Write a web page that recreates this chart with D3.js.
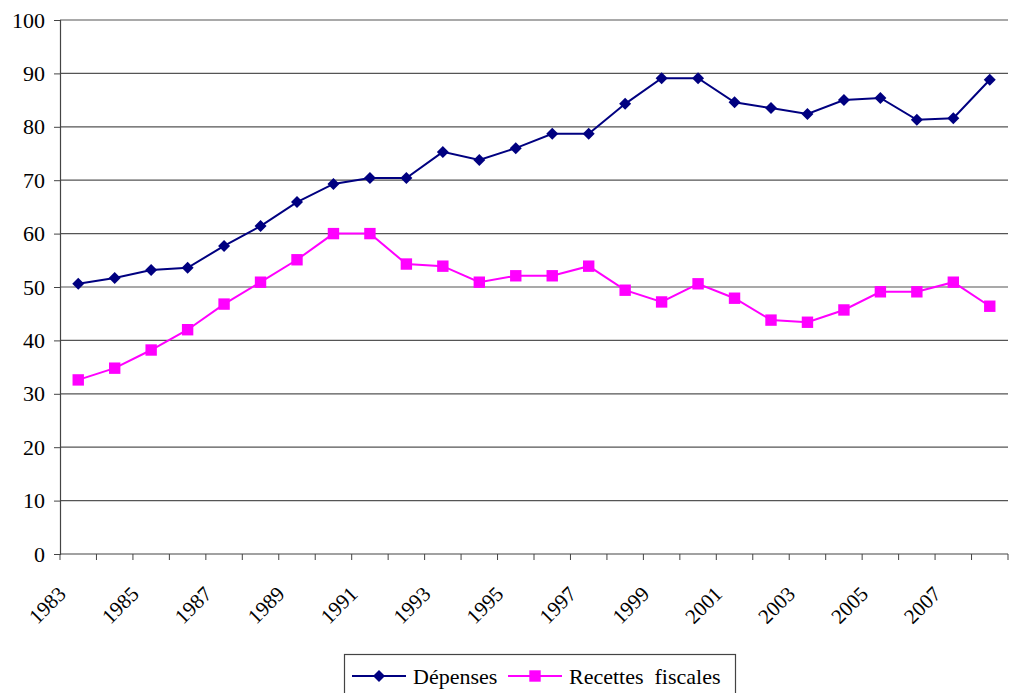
<!DOCTYPE html>
<html>
<head>
<meta charset="utf-8">
<script src="https://cdn.jsdelivr.net/npm/d3@7"></script>
<style>
  body { margin: 0; background: #fff; }
  * { font-family: "Liberation Serif", "Times New Roman", serif !important; }
</style>
</head>
<body>
<svg id="chart" width="1013" height="693" font-family="Liberation Serif"></svg>
<script>
const years = d3.range(1983, 2009);
const depenses = [50.6, 51.7, 53.2, 53.6, 57.7, 61.4, 65.9, 69.3, 70.4, 70.4, 75.3, 73.8, 76.0,
  78.7, 78.7, 84.3, 89.1, 89.1, 84.6, 83.5, 82.4, 85.0, 85.4, 81.3, 81.6, 88.8];
const recettes = [32.6, 34.8, 38.2, 42.0, 46.8, 50.9, 55.1, 60.0, 60.0, 54.3, 53.9, 50.9, 52.1,
  52.1, 53.9, 49.4, 47.2, 50.6, 47.9, 43.8, 43.4, 45.7, 49.1, 49.1, 50.9, 46.4];
const yTicks = d3.range(0, 101, 10);
const xLabels = d3.range(1983, 2008, 2);
const seriesNames = ['Dépenses', 'Recettes  fiscales'];

const FONT = 'Liberation Serif';
const margin = { left: 60, right: 5, top: 20, bottom: 139 };
const width = 1013, height = 693;
const svg = d3.select('#chart');

const x = d3.scaleBand()
  .domain(years)
  .range([margin.left, width - margin.right]);
const y = d3.scaleLinear()
  .domain([0, 100])
  .range([height - margin.bottom, margin.top]);

// grid lines
svg.append('g')
  .selectAll('line')
  .data(yTicks.filter(d => d > 0))
  .enter().append('line')
  .attr('x1', margin.left)
  .attr('x2', width - margin.right)
  .attr('y1', d => y(d))
  .attr('y2', d => y(d))
  .attr('stroke', '#555')
  .attr('stroke-width', 1.2);

// y axis
const yAxis = svg.append('g')
  .attr('transform', `translate(${margin.left},0)`)
  .call(d3.axisLeft(y).tickValues(yTicks).tickSize(6).tickPadding(9))
  .attr('font-family', FONT)
  .attr('font-size', 22);
yAxis.select('.domain').attr('stroke', '#444').attr('stroke-width', 1.2);
yAxis.selectAll('.tick line').attr('stroke', '#444');
yAxis.selectAll('text')
  .attr('font-family', FONT)
  .attr('fill', '#000');

// x axis: ticks between categories
const xBase = y(0);
const boundaries = years.map(d => x(d)).concat([x(years[years.length - 1]) + x.bandwidth()]);
const xAxis = svg.append('g').attr('font-family', FONT);
xAxis.append('line')
  .attr('x1', margin.left)
  .attr('x2', width - margin.right)
  .attr('y1', xBase)
  .attr('y2', xBase)
  .attr('stroke', '#444')
  .attr('stroke-width', 1.2);
xAxis.selectAll('line.tick')
  .data(boundaries)
  .enter().append('line')
  .attr('class', 'tick')
  .attr('x1', d => d)
  .attr('x2', d => d)
  .attr('y1', xBase)
  .attr('y2', xBase + 6)
  .attr('stroke', '#444');
xAxis.selectAll('text')
  .data(xLabels)
  .enter().append('text')
  .attr('transform', d => `translate(${x(d) + 2},${xBase + 36}) rotate(-45)`)
  .attr('text-anchor', 'end')
  .attr('dy', '0.35em')
  .attr('font-family', FONT)
  .attr('font-size', 21)
  .text(d => d);

// series
const line = d3.line()
  .x((d, i) => x(years[i]) + x.bandwidth() / 2)
  .y(d => y(d));

svg.append('path')
  .datum(depenses)
  .attr('d', line)
  .attr('fill', 'none')
  .attr('stroke', '#000080')
  .attr('stroke-width', 2);

svg.append('path')
  .datum(recettes)
  .attr('d', line)
  .attr('fill', 'none')
  .attr('stroke', '#ff00ff')
  .attr('stroke-width', 2);

const diamond = d3.symbol().type(d3.symbolSquare).size(72);
svg.append('g')
  .selectAll('path')
  .data(depenses)
  .enter().append('path')
  .attr('d', diamond)
  .attr('transform', (d, i) => `translate(${x(years[i]) + x.bandwidth() / 2},${y(d)}) rotate(45)`)
  .attr('fill', '#000080');

const square = d3.symbol().type(d3.symbolSquare).size(130);
svg.append('g')
  .selectAll('path')
  .data(recettes)
  .enter().append('path')
  .attr('d', square)
  .attr('transform', (d, i) => `translate(${x(years[i]) + x.bandwidth() / 2},${y(d)})`)
  .attr('fill', '#ff00ff');

// legend
const legend = svg.append('g').attr('transform', 'translate(344,654)');
legend.append('rect')
  .attr('x', 0.5).attr('y', 0.5)
  .attr('width', 391).attr('height', 45)
  .attr('fill', '#fff')
  .attr('stroke', '#444')
  .attr('stroke-width', 1.2);

const items = [
  { name: seriesNames[0], color: '#000080', sym: diamond, rot: 45, x0: 8 },
  { name: seriesNames[1], color: '#ff00ff', sym: square, rot: 0, x0: 164 }
];
items.forEach(it => {
  const g = legend.append('g').attr('transform', `translate(${it.x0},22)`);
  g.append('line')
    .attr('x1', 0).attr('x2', 54)
    .attr('stroke', it.color).attr('stroke-width', 2);
  g.append('path')
    .attr('d', it.sym)
    .attr('transform', `translate(27,0) rotate(${it.rot})`)
    .attr('fill', it.color);
  g.append('text')
    .attr('x', 61)
    .attr('dy', '0.35em')
    .attr('font-family', FONT)
    .attr('font-size', 22)
    .attr('xml:space', 'preserve')
    .text(it.name);
});
</script>
</body>
</html>
